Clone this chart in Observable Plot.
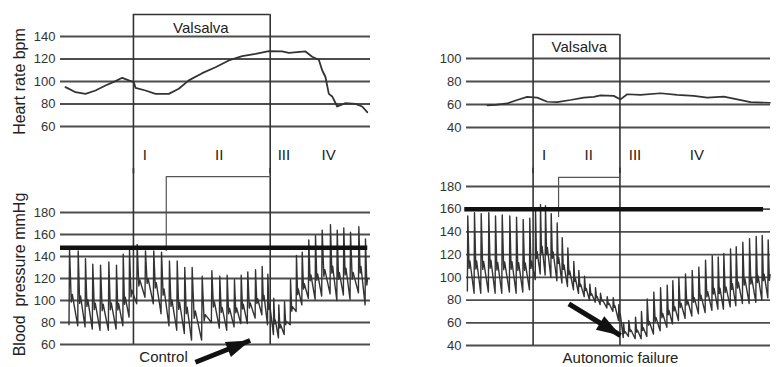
<!DOCTYPE html>
<html><head><meta charset="utf-8">
<script src="https://cdn.jsdelivr.net/npm/d3@7"></script>
<script src="https://cdn.jsdelivr.net/npm/@observablehq/plot@0.6"></script>
<style>
body{margin:0;background:#fff;}
#wrap{position:relative;width:778px;height:367px;overflow:hidden;background:#fff;}
#wrap > svg{position:absolute;}
</style></head><body><div id="wrap"></div>
<script>
// ---------- data ----------
const hrTicksLeft = [60, 80, 100, 120, 140];
const bpTicksLeft = [60, 80, 100, 120, 140, 160, 180];
const hrTicksRight = [40, 60, 80, 100];
const bpTicksRight = [40, 60, 80, 100, 120, 140, 160, 180];
const phaseLabels = ["I", "II", "III", "IV"];
const phaseTimesLeft = [9.25, 17.4, 24.5, 29.4];
const phaseTimesRight = [13.4, 21.1, 29.1, 39.8];
const valsalvaLeft = [8, 23];
const valsalvaRight = [11.5, 26.5];
const restingBpLeft = 148;
const restingBpRight = 160;

// Heart rate, control (time s, bpm)
const hrLeftT = [0.55,1.65,2.74,3.84,4.93,6.03,6.77,7.49,8.04,8.23,9.32,10.42,11.88,12.97,14.07,15.54,17.0,18.46,19.93,21.39,22.85,24.31,25.04,26.87,27.6,28.33,28.7,29.06,29.43,29.8,30.35,31.26,32.35,33.09,33.64];
const hrLeftV = [95,90.5,89,92,96.4,100.3,103.3,101,99.4,94.4,92,89,89,93.5,101,107.4,112.7,118.7,122.5,124.6,127,126.7,125.5,126.7,122,119.3,110,104,89,86.7,77.8,80.7,80.1,77.8,72.7];

// Heart rate, autonomic failure
const hrRightT = [3.6,5.0,7.03,8.76,10.48,12.21,13.94,15.66,17.96,20.26,21.99,23.14,25.44,26.6,27.75,30.05,33.5,36.39,39.26,41.57,44.44,46.75,49.05,52.4];
const hrRightV = [59.3,59.6,60.9,63.9,66.6,66,62.4,62.1,63.9,66,66.6,68,67.5,64.4,68.9,68.3,69.8,68.3,67.5,66,66.8,64.4,62.1,61.5];

// Blood pressure beats, control (beat time s, systolic, diastolic mmHg)
const bpLeftT = [0.99,1.94,2.74,3.54,4.39,5.30,6.14,6.88,7.57,8.41,9.32,10.23,11.08,11.95,12.80,13.63,14.44,15.54,16.6,17.47,18.28,19.08,19.82,20.54,21.39,22.12,22.74,23.39,23.94,24.57,25.23,25.88,26.51,27.23,27.97,28.70,29.61,30.35,31.07,31.81,32.72,33.45];
const bpLeftSys = [147,145,138,133,132,135,132,142,146,151,145,145,144,136,136,130,130,122,127,122,123,119,123,126,128,131,124,102,96,99,119,141,144,155,159,164,169,164,166,162,167,156];
const bpLeftDia = [78,77,76,74,73,73,74,77,85,97,103,97,88,77,73,70,64,64,80,75,73,76,79,79,84,87,78,69,66,69,78,90,96,102,101,104,106,100,105,101,107,96];

// Blood pressure beats, autonomic failure
const bpRightT = [0.22,1.38,2.54,3.85,5.01,6.17,7.48,8.64,9.79,10.93,11.92,12.78,13.64,14.63,15.66,16.53,17.50,18.53,19.40,20.38,21.30,22.28,23.14,24.30,25.34,26.30,27.12,28.03,29.19,30.22,31.21,32.35,33.51,34.66,35.63,36.67,37.82,38.98,40.12,41.28,42.44,43.47,44.44,45.60,46.58,47.72,48.88,50.03,51.07,52.1];
const bpRightSys = [154,157,156,157,154,155,154,153,151,152,160,164,163,156,148,135,126,114,106,101,94,91,86,83,82,76,60,62,65,70,81,87,91,93,97,100,103,106,109,115,119,118,121,125,127,131,134,136,137,133];
const bpRightDia = [88,86,86,87,86,86,87,86,87,89,98,103,102,100,97,95,92,89,86,83,80,78,76,73,70,62,47,48,46,46,48,50,53,56,59,62,64,66,68,69,71,72,72,74,75,77,77,78,80,82];

// annotations (time s, value)
const bracketLeft = [[11.6, 145.5], [11.6, 212.7], [23, 212.7]];
const bracketRight = [[15.9, 153.6], [15.9, 188], [26.5, 188]];
const arrowLeft = [{x1: 14.8, y1: 43.9, x2: 20.8, y2: 63.6}];
const arrowRight = [{x1: 17.67, y1: 76.6, x2: 26.6, y2: 48.8}];

// ---------- helpers ----------
const INK = "#333333";
const GRID = "#4d4d4d";
const FONT = "Liberation Sans, Arial, sans-serif";

// narrow filled arrowhead, tip at origin, pointing up
const headSymbol = {
  draw(context) {
    context.moveTo(0, 0);
    context.lineTo(8, 24);
    context.lineTo(-8, 24);
    context.closePath();
  }
};

function hrRows(T, V) { return T.map((t, i) => ({t, v: V[i]})); }
function wave(T, S, D) {
  const pts = [];
  for (let i = 0; i < T.length; i++) {
    const per = i < T.length - 1 ? T[i + 1] - T[i] : T[i] - T[i - 1];
    const amp = S[i] - D[i];
    pts.push({t: T[i] - 0.06 * per, v: D[i]});
    pts.push({t: T[i], v: S[i]});
    pts.push({t: T[i] + 0.2 * per, v: D[i] + 0.3 * amp});
    pts.push({t: T[i] + 0.32 * per, v: D[i] + 0.4 * amp});
  }
  return pts;
}

const wrap = document.getElementById("wrap");
function place(svg, left, top) {
  svg.style.left = left + "px";
  svg.style.top = top + "px";
  wrap.appendChild(svg);
}
function base(o) {
  return Plot.plot({
    width: o.width, height: o.height,
    marginLeft: o.ml, marginRight: o.mr, marginTop: o.mt, marginBottom: o.mb,
    x: {domain: o.xd, axis: null},
    y: {domain: o.yd, ticks: o.ticks, tickSize: 0, tickPadding: 5, label: null, axis: o.ticks ? "left" : null},
    style: {fontFamily: FONT, fontSize: "13px", color: "#333", background: "transparent", overflow: "visible"},
    marks: o.marks
  });
}
function arrowMarks(data, rot) {
  return [
    Plot.link(data, {x1: "x1", y1: "y1", x2: "x2", y2: "y2", stroke: "#111", strokeWidth: 5}),
    Plot.dot(data, {x: "x2", y: "y2", symbol: headSymbol, r: 5, fill: "#111", stroke: "none", rotate: rot})
  ];
}

// ---------- Left heart rate ----------
place(base({
  width: 390, height: 170, ml: 60, mr: 20, mt: 36, mb: 44,
  xd: [0, 34], yd: [60, 140], ticks: hrTicksLeft,
  marks: [
    Plot.ruleY(hrTicksLeft, {stroke: GRID, strokeWidth: 1.8}),
    Plot.ruleX(valsalvaLeft, {y1: () => 159.6, y2: () => 18, stroke: INK, strokeWidth: 1.6}),
    Plot.ruleY([159.6], {x1: () => valsalvaLeft[0], x2: () => valsalvaLeft[1], stroke: INK, strokeWidth: 1.6}),
    Plot.text(["Valsalva"], {x: () => 15.4, y: () => 147.6, text: d => d, fontSize: 15, fill: "#222"}),
    Plot.text(phaseLabels, {x: (d, i) => phaseTimesLeft[i], y: () => 34.5, text: d => d, fontSize: 15, fill: "#222"}),
    Plot.line(hrRows(hrLeftT, hrLeftV), {x: "t", y: "v", stroke: INK, strokeWidth: 1.8}),
    Plot.text(["Heart rate bpm"], {frameAnchor: "left", textAnchor: "middle", rotate: -90, dx: -41, text: d => d, fontSize: 16, fill: "#222"})
  ]
}), 0, 0);

// ---------- Left blood pressure ----------
place(base({
  width: 390, height: 197, ml: 60, mr: 20, mt: 42, mb: 23,
  xd: [0, 34], yd: [60, 180], ticks: bpTicksLeft,
  marks: [
    Plot.ruleY(bpTicksLeft, {stroke: GRID, strokeWidth: 1.8}),
    Plot.ruleX(valsalvaLeft, {y1: () => 220, y2: () => 60, stroke: INK, strokeWidth: 1.6}),
    Plot.line(bracketLeft, {x: d => d[0], y: d => d[1], stroke: "#555", strokeWidth: 1.2}),
    Plot.line(wave(bpLeftT, bpLeftSys, bpLeftDia), {x: "t", y: "v", stroke: INK, strokeWidth: 1.4}),
    Plot.ruleY([restingBpLeft], {x1: () => 0, x2: () => 33.7, stroke: "#111", strokeWidth: 4.5}),
    ...arrowMarks(arrowLeft, 68),
    Plot.text(["Control"], {x: () => 11.3, y: () => 48.2, text: d => d, fontSize: 15, fill: "#222"}),
    Plot.text(["Blood  pressure mmHg"], {frameAnchor: "left", textAnchor: "middle", rotate: -90, dx: -41, dy: -4, text: d => d, fontSize: 16, fill: "#222"})
  ]
}), 0, 170);

// ---------- Right heart rate ----------
place(base({
  width: 388, height: 170, ml: 76, mr: 8, mt: 58, mb: 43,
  xd: [0, 52.5], yd: [40, 100], ticks: hrTicksRight,
  marks: [
    Plot.ruleY(hrTicksRight, {stroke: GRID, strokeWidth: 1.8}),
    Plot.ruleX(valsalvaRight, {y1: () => 120.9, y2: () => 0, stroke: INK, strokeWidth: 1.6}),
    Plot.ruleY([120.9], {x1: () => valsalvaRight[0], x2: () => valsalvaRight[1], stroke: INK, strokeWidth: 1.6}),
    Plot.text(["Valsalva"], {x: () => 19.5, y: () => 109.8, text: d => d, fontSize: 15, fill: "#222"}),
    Plot.text(phaseLabels, {x: (d, i) => phaseTimesRight[i], y: () => 16.3, text: d => d, fontSize: 15, fill: "#222"}),
    Plot.line(hrRows(hrRightT, hrRightV), {x: "t", y: "v", stroke: INK, strokeWidth: 1.7})
  ]
}), 390, 0);

// ---------- Right blood pressure ----------
place(base({
  width: 388, height: 197, ml: 76, mr: 8, mt: 16, mb: 22,
  xd: [0, 52.5], yd: [40, 180], ticks: bpTicksRight,
  marks: [
    Plot.ruleY(bpTicksRight, {stroke: GRID, strokeWidth: 1.8}),
    Plot.ruleX(valsalvaRight, {y1: () => 196, y2: () => 40, stroke: INK, strokeWidth: 1.6}),
    Plot.line(bracketRight, {x: d => d[0], y: d => d[1], stroke: "#555", strokeWidth: 1.2}),
    Plot.line(wave(bpRightT, bpRightSys, bpRightDia), {x: "t", y: "v", stroke: INK, strokeWidth: 1.4}),
    Plot.ruleY([restingBpRight], {x1: () => -0.3, x2: () => 51.3, stroke: "#111", strokeWidth: 4.5}),
    ...arrowMarks(arrowRight, 121.5),
    Plot.text(["Autonomic failure"], {x: () => 26.6, y: () => 29, text: d => d, fontSize: 15, fill: "#222"})
  ]
}), 390, 170);
</script></body></html>
